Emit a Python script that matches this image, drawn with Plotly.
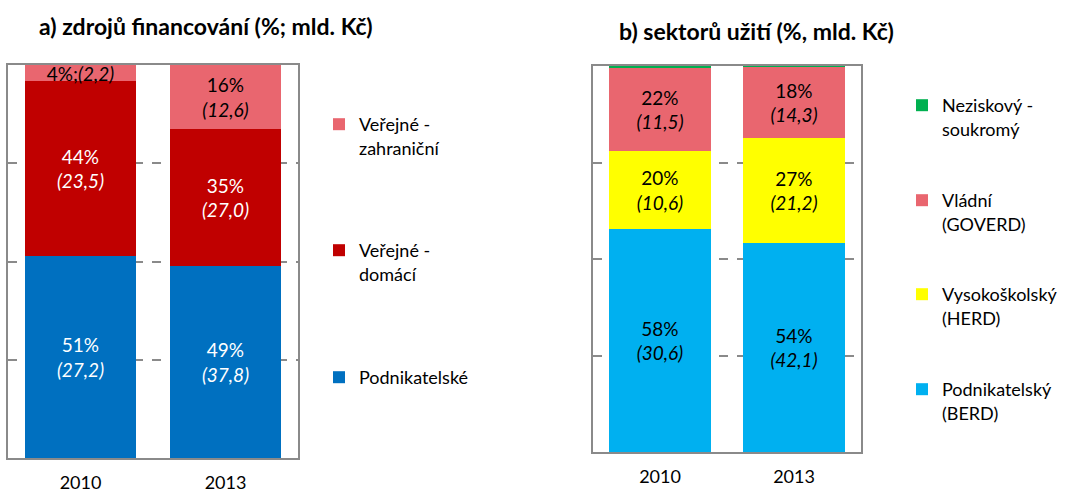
import plotly.graph_objects as go
from plotly.subplots import make_subplots

years = ["2010", "2013"]

# a) sources of funding, mld. Kč
fund_business = [27.2, 37.8]
fund_domestic = [23.5, 27.0]
fund_foreign = [2.2, 12.6]
fund_business_pct = ["51%", "49%"]
fund_domestic_pct = ["44%", "35%"]
fund_foreign_pct = ["4%", "16%"]

# b) sectors of use, mld. Kč
use_berd = [30.6, 42.1]
use_herd = [10.6, 21.2]
use_goverd = [11.5, 14.3]
use_nonprofit = [0.2, 0.2]
use_berd_pct = ["58%", "54%"]
use_herd_pct = ["20%", "27%"]
use_goverd_pct = ["22%", "18%"]

FONT = "Lato"
W, H = 1069, 493


def fmt(v):
    return f"{v:.1f}".replace(".", ",")


def labels(pcts, vals, inline_first=False):
    out = []
    for i, (p, v) in enumerate(zip(pcts, vals)):
        if inline_first and i == 0:
            out.append(f"{p};<i>({fmt(v)})</i>")
        else:
            out.append(f"{p}<br><i>({fmt(v)})</i>")
    return out


fig = make_subplots(rows=1, cols=2)

left_series = [
    ("Podnikatelské", fund_business, labels(fund_business_pct, fund_business), "#0070C0", "white", "legend3"),
    ("Veřejné -<br>domácí", fund_domestic, labels(fund_domestic_pct, fund_domestic), "#C00000", "white", "legend2"),
    ("Veřejné -<br>zahraniční", fund_foreign, labels(fund_foreign_pct, fund_foreign, inline_first=True), "#E9666F", "black", "legend"),
]
right_series = [
    ("Podnikatelský<br>(BERD)", use_berd, labels(use_berd_pct, use_berd), "#00B0F0", "black", "legend7"),
    ("Vysokoškolský<br>(HERD)", use_herd, labels(use_herd_pct, use_herd), "#FFFF00", "black", "legend6"),
    ("Vládní<br>(GOVERD)", use_goverd, labels(use_goverd_pct, use_goverd), "#E9666F", "black", "legend5"),
    ("Neziskový -<br>soukromý", use_nonprofit, ["", ""], "#00B050", "black", "legend4"),
]

for col, series in ((1, left_series), (2, right_series)):
    for name, vals, txt, color, tcolor, leg in series:
        fig.add_trace(
            go.Bar(
                x=years, y=vals, name=name, text=txt,
                textposition="inside", insidetextanchor="middle",
                textangle=0, constraintext="none",
                textfont=dict(family=FONT, size=19, color=tcolor),
                marker=dict(color=color, line=dict(width=0)),
                legend=leg, hoverinfo="skip", showlegend=True,
            ),
            row=1, col=col,
        )

fig.update_layout(
    width=W, height=H,
    barmode="stack", barnorm="percent", bargap=0.234,
    margin=dict(l=0, r=0, t=0, b=0, autoexpand=False),
    paper_bgcolor="white", plot_bgcolor="white",
    font=dict(family=FONT, size=18, color="black"),
    showlegend=True,
)

axis_common = dict(showline=True, linecolor="#8a8a8a", linewidth=2, mirror=True, automargin=False)
fig.update_xaxes(
    **axis_common, range=[-0.5, 1.5], showgrid=False, ticks="",
    tickfont=dict(family=FONT, size=18, color="black"), ticklabelstandoff=7,
)
fig.update_yaxes(
    **axis_common, range=[0, 100], dtick=25, showticklabels=False, ticks="",
    showgrid=True, gridcolor="#8a8a8a", gridwidth=1.5, griddash="dash", zeroline=False,
)

fig.update_layout(
    xaxis=dict(domain=[8 / W, 298 / W]),
    yaxis=dict(domain=[1 - 458 / H, 1 - 65 / H]),
    xaxis2=dict(domain=[593 / W, 861 / W]),
    yaxis2=dict(domain=[1 - 452 / H, 1 - 66 / H]),
)

leg_common = dict(xanchor="left", yanchor="top", valign="top", bgcolor="rgba(0,0,0,0)",
                  font=dict(family=FONT, size=18, color="black"), itemclick=False,
                  visible=True)
left_x = 319 / W
right_x = 902 / W
fig.update_layout(
    legend=dict(**leg_common, x=left_x, y=1 - 106 / H),
    legend2=dict(**leg_common, x=left_x, y=1 - 232 / H),
    legend3=dict(**leg_common, x=left_x, y=1 - 359 / H),
    legend4=dict(**leg_common, x=right_x, y=1 - 87 / H),
    legend5=dict(**leg_common, x=right_x, y=1 - 182 / H),
    legend6=dict(**leg_common, x=right_x, y=1 - 276 / H),
    legend7=dict(**leg_common, x=right_x, y=1 - 371 / H),
)

fig.add_annotation(text="<b>a) zdrojů financování (%; mld. Kč)</b>", x=206 / W, y=1 - 26 / H,
                   xref="paper", yref="paper", xanchor="center", yanchor="middle", showarrow=False,
                   font=dict(family=FONT, size=23, color="black"))
fig.add_annotation(text="<b>b) sektorů užití (%, mld. Kč)</b>", x=756 / W, y=1 - 31 / H,
                   xref="paper", yref="paper", xanchor="center", yanchor="middle", showarrow=False,
                   font=dict(family=FONT, size=23, color="black"))

fig.write_html(
    "out.html",
    config={"displayModeBar": False},
    post_script="document.body.style.margin='0';document.body.style.overflow='hidden';",
)
